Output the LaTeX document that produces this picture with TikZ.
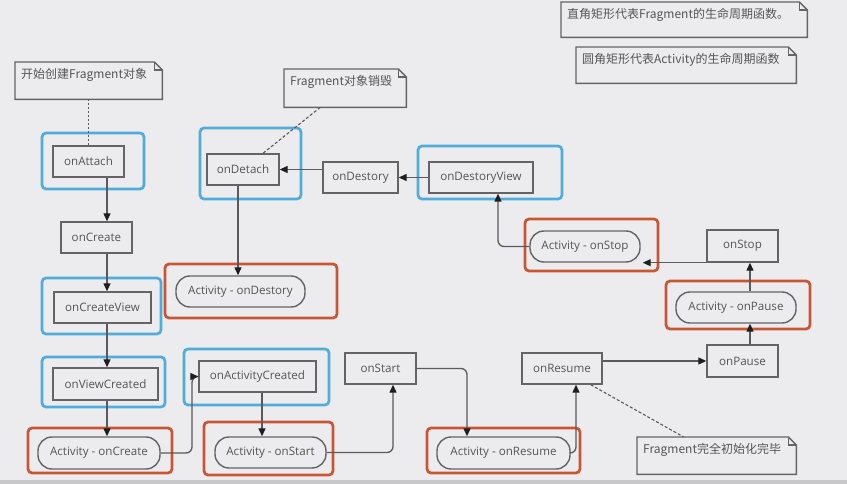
\documentclass[tikz,border=0pt]{standalone}
\usepackage{fontspec}
\setmainfont{Open Sans}
\newfontfamily\cjk{Noto Sans CJK SC}
\usetikzlibrary{arrows.meta,calc}
\definecolor{bgc}{RGB}{236,236,238}
\definecolor{boxc}{RGB}{100,100,103}
\definecolor{txtc}{RGB}{85,85,88}
\definecolor{linec}{RGB}{90,90,92}
\definecolor{tipc}{RGB}{30,30,32}
\definecolor{bluec}{RGB}{80,172,218}
\definecolor{orangec}{RGB}{200,86,52}
\definecolor{bandc}{RGB}{200,200,202}
\newcommand\mybx[7]{\node[#1, minimum width={(#5-#3)*1pt}, minimum height={(#6-#4)*1pt}] (#2) at ({(#3+#5)/2},{(#4+#6)/2}) {#7};}
\newcommand\mynote[6]{%
  \node[notebg, minimum width={(#4-#2)*1pt}, minimum height={(#5-#3)*1pt}, anchor=north west] (#1) at (#2,#3) {};
  \draw[noteline] (#1.north west) -- ([xshift=-8pt]#1.north east) -- ([yshift=-8pt]#1.north east) -- (#1.south east) -- (#1.south west) -- cycle;
  \draw[noteline] ([xshift=-8pt]#1.north east) -- ([xshift=-8pt,yshift=-8pt]#1.north east) -- ([yshift=-8pt]#1.north east);
  \node[notetext, anchor=north west] (#1t) at ([xshift=6pt,yshift=-6pt]#1.north west) {#6};}
\begin{document}
\begin{tikzpicture}[x=1pt,y=-1pt,
  fbox/.style={draw=boxc, line width=1.4pt, fill=bgc, text=txtc, font=\fontsize{11.6}{13}\selectfont, inner sep=0pt},
  abox/.style={fbox, rounded corners=14pt},
  bframe/.style={draw=bluec, line width=2.7pt, rounded corners=4pt, inner sep=0pt},
  oframe/.style={draw=orangec, line width=2.7pt, rounded corners=4pt, inner sep=0pt},
  conn/.style={draw=linec, line width=1.3pt, rounded corners=6pt, -{Triangle[length=8pt,width=7pt,color=tipc]}},
  notebg/.style={fill=bgc, draw=none, inner sep=0pt},
  noteline/.style={draw=boxc, line width=1.4pt, line join=miter},
  notetext/.style={text=txtc, font=\cjk\fontsize{12}{14}\selectfont, inner sep=0pt},
  dotline/.style={draw=linec, line width=1.1pt, dash pattern=on 2pt off 2pt},
  dashline/.style={draw=linec, line width=1.1pt, dash pattern=on 3pt off 2pt}]
\fill[bgc] (0,0) rectangle (847,484);
\useasboundingbox (0,0) rectangle (847,484);
\fill[bandc] (0,480) rectangle (847,484);
% column coordinates
\coordinate (cA) at (107,0);
\coordinate (cB) at (192,0);
\coordinate (cC) at (262,0);
\coordinate (cD) at (393,0);
\coordinate (cE) at (467,0);
\coordinate (cF) at (576,0);
\coordinate (cG) at (750,0);
\coordinate (cH) at (498,0);
\coordinate (cI) at (238,0);
% frames
\mybx{bframe}{fAttach}{42}{133}{144}{189}{}
\mybx{bframe}{fCreateView}{42}{278}{161}{334}{}
\mybx{bframe}{fViewCreated}{42}{357}{165}{407}{}
\mybx{oframe}{fActCreate}{28}{428}{172}{473}{}
\mybx{bframe}{fActCreated}{184}{349}{329}{405}{}
\mybx{oframe}{fActStart}{204}{422}{333}{475}{}
\mybx{oframe}{fActResume}{427}{428}{580}{473}{}
\mybx{oframe}{fActPause}{666}{281}{810}{329}{}
\mybx{oframe}{fActStop}{525}{219}{658}{271}{}
\mybx{bframe}{fDestroyView}{418}{146}{562}{199}{}
\mybx{bframe}{fDetach}{200}{128}{301}{199}{}
\mybx{oframe}{fActDestroy}{165}{264}{337}{318}{}
% boxes
\mybx{fbox}{attach}{53}{146}{124}{177}{onAttach}
\mybx{fbox}{create}{61}{222}{132}{253}{onCreate}
\mybx{fbox}{createview}{54}{292}{151}{323}{onCreateView}
\mybx{fbox}{viewcreated}{53}{368}{158}{400}{onViewCreated}
\mybx{abox}{actcreate}{38}{437}{160}{469}{Activity - onCreate}
\mybx{fbox}{actcreated}{199}{361}{316}{392}{onActivityCreated}
\mybx{abox}{actstart}{215}{437}{326}{468}{Activity - onStart}
\mybx{fbox}{onstart}{345}{353}{416}{384}{onStart}
\mybx{abox}{actresume}{437}{437}{570}{469}{Activity - onResume}
\mybx{fbox}{onresume}{522}{353}{602}{384}{onResume}
\mybx{fbox}{onpause}{707}{345}{778}{377}{onPause}
\mybx{abox}{actpause}{676}{292}{796}{323}{Activity - onPause}
\mybx{fbox}{onstop}{707}{230}{778}{262}{onStop}
\mybx{abox}{actstop}{530}{231}{640}{262}{Activity - onStop}
\mybx{fbox}{destroyview}{429}{162}{533}{193}{onDestoryView}
\mybx{fbox}{destroy}{323}{162}{398}{193}{onDestory}
\mybx{fbox}{detach}{207}{154}{279}{185}{onDetach}
\mybx{abox}{actdestroy}{176}{276}{305}{307}{Activity - onDestory}
% notes
\mynote{n1}{15}{62}{162}{99}{开始创建Fragment对象}
\mynote{n2}{284}{69}{406}{107}{Fragment对象销毁}
\mynote{n3}{637}{437}{796}{474}{Fragment完全初始化完毕}
\mynote{n4}{561}{2}{807}{37}{直角矩形代表Fragment的生命周期函数。}
\mynote{n5}{576}{47}{796}{83}{圆角矩形代表Activity的生命周期函数}
% connectors
\draw[conn] (attach.south -| cA) -- (create.north -| cA);
\draw[conn] (create.south -| cA) -- (createview.north -| cA);
\draw[conn] (createview.south -| cA) -- (viewcreated.north -| cA);
\draw[conn] (viewcreated.south -| cA) -- (actcreate.north -| cA);
\draw[conn] (actcreate.east) -| (actcreated.west -| cB) -- (actcreated.west);
\draw[conn] (actcreated.south -| cC) -- (actstart.north -| cC);
\draw[conn] (actstart.east) -| (onstart.south -| cD);
\draw[conn] (onstart.east) -| (actresume.north -| cE);
\draw[conn] (actresume.east) -| (onresume.south -| cF);
\draw[conn] (onpause.west -| onresume.east) -- (onpause.west);
\draw[conn] (onpause.north -| cG) -- (actpause.south -| cG);
\draw[conn] (actpause.north -| cG) -- (onstop.south -| cG);
\draw[conn] (onstop.south west) -- ([xshift=2pt]onstop.south west -| actstop.east);
\draw[conn] (actstop.west) -| (destroyview.south -| cH);
\draw[conn] (destroyview.west) -- (destroy.east);
\draw[conn] (destroy.west |- detach.east) -- (detach.east);
\draw[conn] (detach.south -| cI) -- (actdestroy.north -| cI);
% note links
\draw[dotline] (n1.south -| attach.north) -- (attach.north);
\draw[dashline] ([xshift=-25pt]n2.south) -- ([xshift=20pt]detach.north);
\draw[dashline] ([xshift=-12pt]onresume.south east) -- ([xshift=-33pt]n3.north);
\end{tikzpicture}
\end{document}
